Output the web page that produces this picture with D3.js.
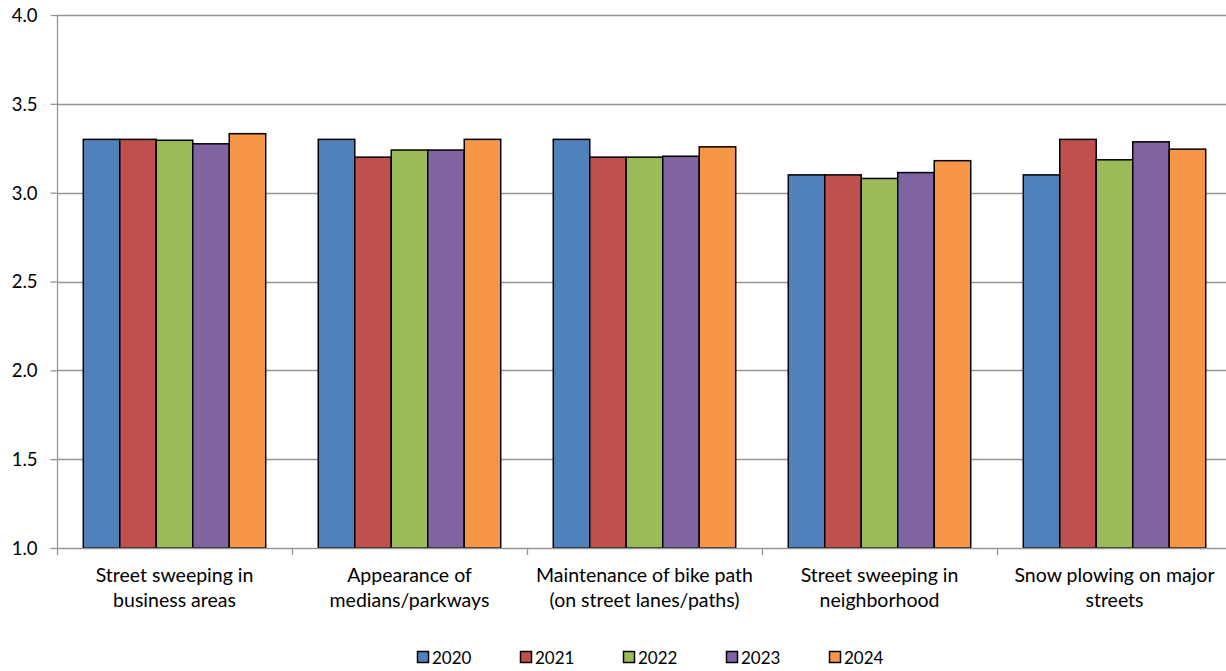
<!DOCTYPE html>
<html><head><meta charset="utf-8">
<script src="https://cdn.jsdelivr.net/npm/d3@7"></script>
<style>
html,body{margin:0;padding:0;background:#fff;overflow:hidden}
text{font-family:Lato,"Open Sans",sans-serif;fill:#000}
</style></head>
<body>
<svg id="chart" width="1226" height="671"></svg>
<script>
const categories = [
  ["Street sweeping in", "business areas"],
  ["Appearance of", "medians/parkways"],
  ["Maintenance of bike path", "(on street lanes/paths)"],
  ["Street sweeping in", "neighborhood"],
  ["Snow plowing on major", "streets"]
];
const years = ["2020", "2021", "2022", "2023", "2024"];
const values2020 = [3.30, 3.30, 3.30, 3.10, 3.10];
const values2021 = [3.30, 3.20, 3.20, 3.10, 3.30];
const values2022 = [3.295, 3.24, 3.20, 3.08, 3.185];
const values2023 = [3.275, 3.24, 3.205, 3.113, 3.286];
const values2024 = [3.332, 3.30, 3.258, 3.18, 3.245];
const yTicks = [1.0, 1.5, 2.0, 2.5, 3.0, 3.5, 4.0];
const colors = ["#4F81BD", "#C0504D", "#9BBB59", "#8064A2", "#F79646"];

(function () {
const series = [values2020, values2021, values2022, values2023, values2024];
const svg = d3.select("#chart");
const pLeft = 57, pRight = 1232, pTop = 15, pBottom = 548;

const x0 = d3.scaleBand().domain(d3.range(categories.length)).range([pLeft, pRight]).paddingInner(0).paddingOuter(0);
const x1 = d3.scaleBand().domain(d3.range(years.length)).range([0, x0.bandwidth()]).paddingOuter(0.72).paddingInner(0);
const y = d3.scaleLinear().domain([1, 4]).range([pBottom, pTop]);

// gridlines
svg.append("g").selectAll("line").data(yTicks.slice(1)).join("line")
  .attr("x1", pLeft).attr("x2", pRight)
  .attr("y1", d => Math.round(y(d)) + 0.5).attr("y2", d => Math.round(y(d)) + 0.5)
  .attr("stroke", "#969696").attr("stroke-width", 1.3);

// bars
const g = svg.append("g");
categories.forEach((c, ci) => {
  series.forEach((s, si) => {
    g.append("rect")
      .attr("x", x0(ci) + x1(si))
      .attr("y", y(s[ci]))
      .attr("width", x1.bandwidth())
      .attr("height", y(1) - y(s[ci]))
      .attr("fill", colors[si])
      .attr("stroke", "#000").attr("stroke-width", 1.5);
  });
});

// y axis
const yAxis = d3.axisLeft(y).tickValues(yTicks).tickFormat(d3.format(".1f")).tickSize(7).tickPadding(13);
const ya = svg.append("g").attr("transform", `translate(${pLeft + 0.5},0)`).call(yAxis);
ya.selectAll("path,line").attr("stroke", "#969696").attr("stroke-width", 1.3);
ya.select(".domain").attr("d", `M0,${y(1)}V${y(4)}`);
ya.selectAll("text").attr("font-size", 18.5).attr("font-family", "Lato").attr("fill", "#000").attr("dy", "0.35em");

// x axis baseline and ticks
const xa = svg.append("g");
xa.append("line").attr("x1", pLeft).attr("x2", pRight).attr("y1", pBottom + 0.5).attr("y2", pBottom + 0.5)
  .attr("stroke", "#969696").attr("stroke-width", 1.3);
xa.selectAll("line.t").data(d3.range(categories.length + 1)).join("line").attr("class", "t")
  .attr("x1", d => (d < categories.length ? x0(d) : pRight) + 0.5)
  .attr("x2", d => (d < categories.length ? x0(d) : pRight) + 0.5)
  .attr("y1", pBottom).attr("y2", pBottom + 7)
  .attr("stroke", "#969696").attr("stroke-width", 1.3);

// category labels
categories.forEach((c, ci) => {
  const t = svg.append("text").attr("text-anchor", "middle").attr("font-size", 19.5)
    .attr("x", x0(ci) + x0.bandwidth() / 2);
  c.forEach((line, li) => {
    t.append("tspan").attr("x", x0(ci) + x0.bandwidth() / 2).attr("y", 582 + li * 24.5).text(line);
  });
});

// legend
const legend = svg.append("g");
years.forEach((yr, i) => {
  const lx = 417.5 + i * 103;
  legend.append("rect").attr("x", lx).attr("y", 651.5).attr("width", 11).attr("height", 11)
    .attr("fill", colors[i]).attr("stroke", "#000").attr("stroke-width", 1.5);
  legend.append("text").attr("x", lx + 14.5).attr("y", 664).attr("font-size", 17).text(yr);
});
})();
</script>
</body></html>
